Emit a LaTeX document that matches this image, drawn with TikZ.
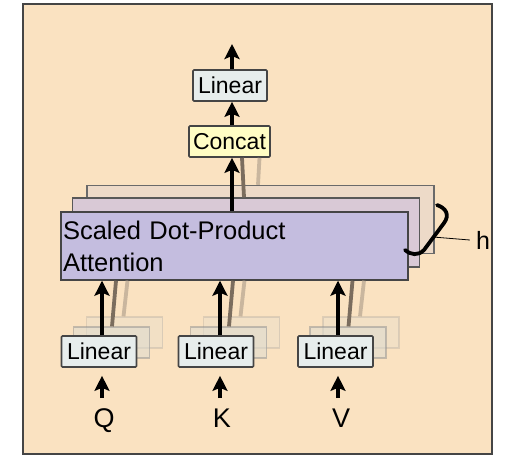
\documentclass[tikz,border=0pt]{standalone}
\usepackage{fontspec}
\setmainfont{Liberation Sans}
\usetikzlibrary{arrows.meta}
\definecolor{bgc}{HTML}{FAE2C1}
\definecolor{framec}{HTML}{454545}
\definecolor{linc}{HTML}{E7EDEC}
\definecolor{concc}{HTML}{FFFDC4}
\definecolor{sdpaA}{HTML}{C4BDDF}
\definecolor{sdpaB}{HTML}{D9C9D6}
\definecolor{sdpaC}{HTML}{EDDAC8}
\definecolor{ghostd}{HTML}{7B6D5E}
\definecolor{ghostl}{HTML}{C9B69E}
\definecolor{ghostf}{HTML}{DCDCD2}
\begin{document}
\begin{tikzpicture}[x=1pt,y=-1pt,
  box/.style={draw=framec, line width=1.6pt, rounded corners=1pt, inner sep=0pt,
    font=\fontsize{23}{27}\selectfont},
  linbox/.style={box, fill=linc, minimum width=75pt, minimum height=31pt},
  ghostbox/.style={draw=framec!60, fill=ghostf, line width=1.2pt, minimum width=76pt, minimum height=31pt, inner sep=0pt},
  sdpabox/.style={draw=framec, line width=1.4pt, minimum width=347pt, minimum height=68pt, inner sep=0pt},
  arr/.style={line width=3.8pt, -{Stealth[length=15pt,width=15pt,inset=3pt]}},
  gdark/.style={draw=ghostd, line width=3.8pt},
  glight/.style={draw=ghostl, line width=3.8pt},
  qkv/.style={font=\fontsize{27}{30}\selectfont, inner sep=0pt, anchor=base}
]
\useasboundingbox (0,0) rectangle (508,456);
\fill[white] (0,0) rectangle (508,456);
\draw[framec, fill=bgc, line width=2pt] (23,4) rectangle (492,454);

% replicated attention heads (back)
\node[sdpabox, fill=sdpaC, draw=framec!80] (sdpa3) at (260.5,219.5) {};
\node[sdpabox, fill=sdpaB, draw=framec!90, minimum height=69pt] (sdpa2) at (246,232.5) {};

% top
\node[box, fill=concc, minimum width=81pt, minimum height=31pt] (concat) at (229.5,141.5) {Concat};
\node[linbox, minimum width=74pt] (linT) at (230,85.5) {Linear};

% ghost lines above the heads
\draw[glight] ([xshift=-2.5pt]sdpa3.north) -- ([xshift=-1pt]sdpa3.north |- concat.south);
\draw[gdark] ([xshift=-2pt]sdpa2.north) -- ([xshift=-4pt]sdpa2.north |- concat.south);

% front attention block
\node[sdpabox, fill=sdpaA, text width=343pt, align=left,
  font=\fontsize{25.5}{32}\selectfont] (sdpa) at (234.5,246) {Scaled Dot-Product\\Attention};

% ghost linear boxes
\foreach \n/\cx in {Q/99, K/216, V/335.5}{
  \node[ghostbox, opacity=0.25] (g\n2) at (\cx+25.5,332.5) {};
  \node[ghostbox, opacity=0.5] (g\n1) at (\cx+12.5,342.5) {};
  \draw[glight] ([xshift=-1pt]g\n2.north) -- ([xshift=3pt]g\n2.north |- sdpa.south);
  \draw[gdark] ([xshift=0.5pt]g\n1.north) -- ([xshift=4.5pt]g\n1.north |- sdpa.south);
}

% linear projections
\node[linbox] (linQ) at (99,351.5) {Linear};
\node[linbox] (linK) at (216,351.5) {Linear};
\node[linbox] (linV) at (335.5,351.5) {Linear};

\node[qkv] (q) at (104,427) {Q};
\node[qkv] (k) at (222,427) {K};
\node[qkv] (v) at (341,427) {V};

\coordinate (qa) at (102,398);
\coordinate (ka) at (220,398);
\coordinate (va) at (338,398);

\draw[arr] (qa) -- ([yshift=-8pt]linQ.south -| qa);
\draw[arr] (ka) -- ([yshift=-8pt]linK.south -| ka);
\draw[arr] (va) -- ([yshift=-8pt]linV.south -| va);

\draw[arr] (linQ.north -| qa) -- (sdpa.south -| qa);
\draw[arr] (linK.north -| ka) -- (sdpa.south -| ka);
\draw[arr] (linV.north -| va) -- (sdpa.south -| va);

\coordinate (colx) at (232,44);
\draw[arr] (sdpa.north -| colx) -- (concat.south -| colx);
\draw[arr] (concat.north -| colx) -- (linT.south -| colx);
\draw[arr] (linT.north -| colx) -- (colx);

% brace and h label
\draw[line width=3.8pt, line cap=round]
  (437,205) .. controls (446,208) and (450,215) .. (444,223)
  -- (424,250) .. controls (418,256) and (411,255) .. (405,250);
\node[font=\fontsize{25}{28}\selectfont, inner sep=0pt] (h) at (483,240) {h};
\draw[line width=0.8pt] (433,237) -- ([xshift=-6pt]h.west);
\end{tikzpicture}
\end{document}
